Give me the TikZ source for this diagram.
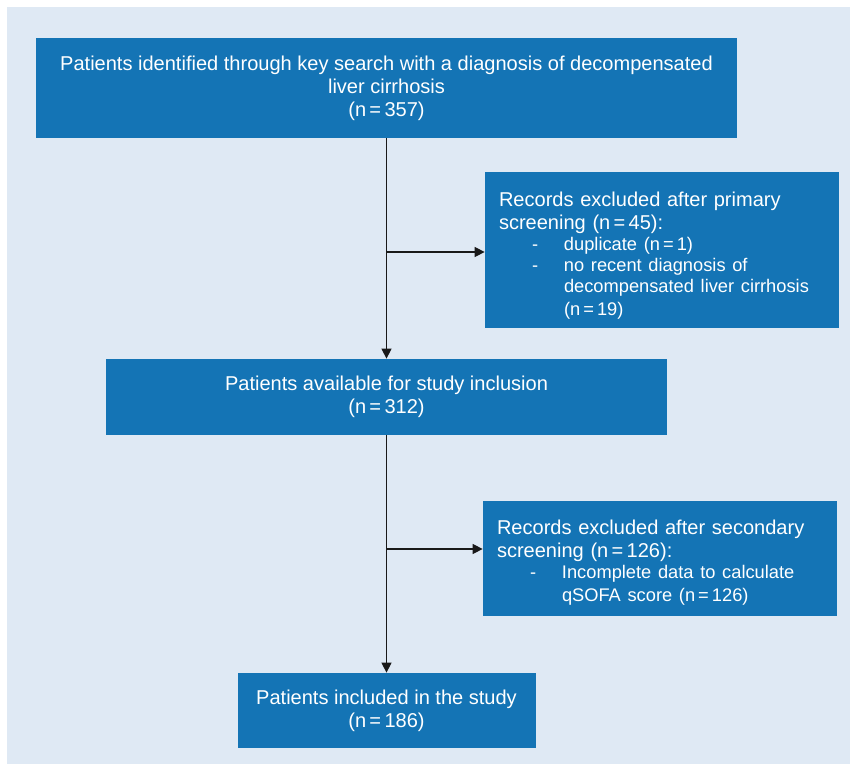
\documentclass[tikz,border=0pt]{standalone}
\usepackage{fontspec}
\setmainfont{Liberation Sans}
\usetikzlibrary{arrows.meta}
\definecolor{boxblue}{HTML}{1474B5}
\definecolor{panelblue}{HTML}{DFE9F4}
\setlength{\parindent}{0pt}
\newcommand{\itemdash}{\hspace*{0.66cm}\makebox[0.64cm][l]{-}}
\newcommand{\itemcont}{\hspace*{1.3cm}}

\begin{document}
\begin{tikzpicture}[
    box/.style={shape=rectangle,fill=boxblue,text=white,inner sep=0pt,font=\fontsize{11.4}{13}\selectfont},
    arr/.style={-{Triangle[length=5.7pt,width=5.7pt]},line width=0.6pt,draw=black!90}]
    \useasboundingbox (0,0) rectangle (17.14,-15.42);
    \fill[panelblue] (0.14,-0.14) rectangle (17.0,-15.28);
    \node[box,align=center,minimum width=14.02cm,minimum height=2cm] (1) at (7.73,-1.76) {Patients identified through key search with a diagnosis of decompensated\\ liver cirrhosis\\ (n\,=\,357)};
    \node[box,text width=6.52cm,align=left,inner xsep=0.28cm,minimum height=3.12cm] (2) at (13.24,-5.0) {\rule{0pt}{15pt}Records excluded after primary\\ screening (n\,=\,45):\par
        \fontsize{10.4}{12}\selectfont\itemdash duplicate (n\,=\,1)\\
        \itemdash no recent diagnosis of\\
        \itemcont decompensated liver cirrhosis\\
        \itemcont (n\,=\,19)};
    \node[box,text width=6.52cm,align=left,inner xsep=0.28cm,minimum height=2.3cm] (4) at (13.2,-11.17) {\rule{0pt}{13.2pt}Records excluded after secondary\\ screening (n\,=\,126):\par
        \fontsize{10.4}{12}\selectfont\itemdash Incomplete data to calculate\\
        \itemcont qSOFA score (n\,=\,126)};
    \node[box,align=center,minimum width=11.22cm,minimum height=1.52cm] (3) at (7.73,-7.94) {Patients available for study inclusion\\ (n\,=\,312)};
    \node[box,align=center,minimum width=5.96cm,minimum height=1.5cm] (5) at (7.73,-14.21) {Patients included in the study\\ (n\,=\,186)};
    \coordinate (a1) at (7.73,-5.04);
    \coordinate (a2) at (7.73,-10.98);
    \draw[arr] (1) -- (3);
    \draw[arr] (3) -- (5);
    \draw[arr] (a1) -- (a1 -| 2.west);
    \draw[arr] (a2) -- (a2 -| 4.west);
\end{tikzpicture}
\end{document}
